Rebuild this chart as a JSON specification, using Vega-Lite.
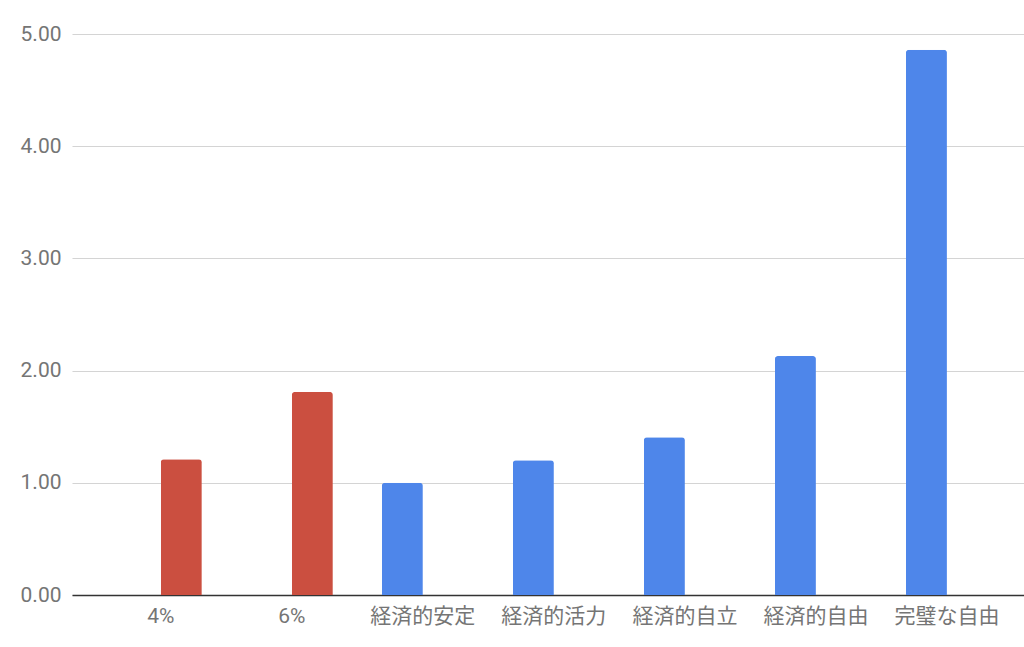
{
  "$schema": "https://vega.github.io/schema/vega-lite/v6.json",
  "width": 952,
  "height": 561,
  "autosize": {"type": "none"},
  "padding": {"left": 72, "top": 34, "right": 0, "bottom": 52},
  "background": "#ffffff",
  "config": {
    "view": {"stroke": null},
    "font": "Roboto, 'Noto Sans CJK JP'"
  },
  "data": {
    "values": [
      {"label": "4%", "series": "rate", "value": 1.21},
      {"label": "6%", "series": "rate", "value": 1.81},
      {"label": "経済的安定", "series": "goal", "value": 1.0},
      {"label": "経済的活力", "series": "goal", "value": 1.2},
      {"label": "経済的自立", "series": "goal", "value": 1.405},
      {"label": "経済的自由", "series": "goal", "value": 2.13},
      {"label": "完璧な自由", "series": "goal", "value": 4.86}
    ]
  },
  "mark": {"type": "bar", "cornerRadiusTopLeft": 3, "cornerRadiusTopRight": 3},
  "encoding": {
    "x": {
      "field": "label",
      "type": "nominal",
      "sort": null,
      "title": null,
      "scale": {"paddingInner": 0.374, "paddingOuter": 0.32, "align": 0.57},
      "axis": {
        "labelAngle": 0,
        "ticks": false,
        "labelPadding": 10,
        "labelFontSize": 21,
        "labelColor": "#757575",
        "domainColor": "#333333",
        "domainWidth": 1.5,
        "grid": false
      }
    },
    "xOffset": {
      "field": "series",
      "type": "nominal",
      "scale": {"domain": ["goal", "rate"], "paddingInner": 0, "paddingOuter": 0}
    },
    "y": {
      "field": "value",
      "type": "quantitative",
      "title": null,
      "scale": {"domain": [0, 5], "nice": false},
      "axis": {
        "values": [0, 1, 2, 3, 4, 5],
        "format": ".2f",
        "domain": false,
        "ticks": false,
        "labelPadding": 11,
        "labelFontSize": 21,
        "labelColor": "#757575",
        "gridColor": "#d4d4d4",
        "gridWidth": 1.2
      }
    },
    "color": {
      "field": "series",
      "type": "nominal",
      "scale": {"domain": ["goal", "rate"], "range": ["#4e86ea", "#cb4f40"]},
      "legend": null
    }
  }
}
